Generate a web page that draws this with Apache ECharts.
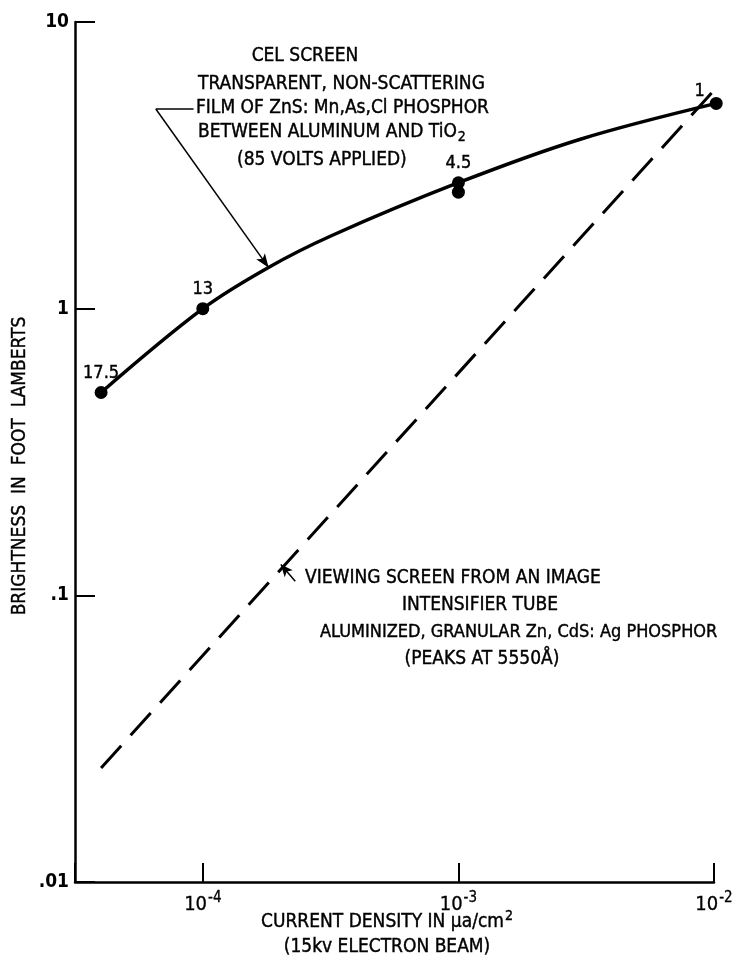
<!DOCTYPE html>
<html>
<head>
<meta charset="utf-8">
<script src="https://cdn.jsdelivr.net/npm/echarts@6/dist/echarts.min.js"></script>
<style>
  html, body { margin: 0; padding: 0; background: #fff; }
  #chart { width: 740px; height: 957px; }
</style>
</head>
<body>
<div id="chart"></div>
<script>
// CEL screen: measured points (current density in µa/cm², brightness in foot lamberts)
const celX = [4e-5, 1e-4, 1e-3, 1e-3, 1.02e-2];
const celY = [0.51, 1.0, 2.75, 2.55, 5.2];
const celTags = ['17.5', '13', '4.5', '', '1'];

// CEL screen: drawn response curve
const celCurveX = [4e-5, 1e-4, 1.8e-4, 3.2e-4, 1e-3, 3e-3, 1.02e-2];
const celCurveY = [0.51, 1.0, 1.39, 1.8, 2.75, 3.9, 5.2];

// image intensifier viewing screen (straight line on log-log paper)
const tubeX = [4e-5, 1.04e-2];
const tubeY = [0.025, 6.0];

// axis extents and tick labels
const xRange = [3.1623e-5, 1e-2];
const yRange = [0.01, 10];
const xTickExp = { '-4': '-4', '-3': '-3', '-2': '-2' };
const yTickText = { '1': '10', '0': '1', '-1': '.1', '-2': '.01' };

// pointer lines for the two captions (data coordinates)
const celPointer = [[6.55e-5, 4.97], [1.81e-4, 1.39]];
const celPointerStub = [[6.55e-5, 4.97], [9.2e-5, 4.97]];
const tubePointer = [[2.3e-4, 0.112], [2.02e-4, 0.128]];

const FONT = "'DejaVu Sans Condensed', 'Liberation Sans Narrow', 'DejaVu Sans', sans-serif";
const INK = '#000';

const zip = (xs, ys) => xs.map((x, i) => [x, ys[i]]);

const chart = echarts.init(document.getElementById('chart'), null, { renderer: 'canvas' });

function caption(text, x, y, align, size, rich) {
  return {
    type: 'text', x: x, y: y,
    style: {
      text: text, fontFamily: FONT, fontSize: size || 19, fill: INK,
      stroke: INK, lineWidth: 0.4,
      textAlign: align || 'left', textVerticalAlign: 'middle',
      rich: rich || {}
    }
  };
}
const subRich = {
  n: { fontFamily: FONT, fontSize: 19, color: INK },
  sub: { fontFamily: FONT, fontSize: 14, color: INK, padding: [11, 0, 0, 1] },
  sup: { fontFamily: FONT, fontSize: 14, color: INK, padding: [0, 0, 11, 1] }
};

chart.setOption({
  backgroundColor: '#fff',
  animation: false,
  grid: { left: 75, right: 26, top: 22, bottom: 75, containLabel: false },
  xAxis: {
    type: 'log', logBase: 10, min: xRange[0], max: xRange[1],
    axisLine: { show: true, lineStyle: { color: INK, width: 2.5 } },
    axisTick: { show: true, inside: true, length: 19, lineStyle: { color: INK, width: 2 } },
    minorTick: { show: false },
    splitLine: { show: false },
    axisLabel: {
      margin: 6, fontFamily: FONT, fontSize: 20, color: INK,
      formatter: function (v) {
        const e = Math.round(Math.log10(v));
        if (Math.abs(Math.log10(v) - e) > 1e-6 || xTickExp[e] === undefined) return '';
        return '{b|10}{s|' + xTickExp[e] + '}';
      },
      rich: {
        b: { fontFamily: FONT, fontSize: 20, color: INK, textBorderColor: INK, textBorderWidth: 0.3, padding: [7, 0, 0, 0] },
        s: { fontFamily: FONT, fontSize: 15, color: INK, textBorderColor: INK, textBorderWidth: 0.3, padding: [0, 0, 7, 1] }
      }
    }
  },
  yAxis: {
    type: 'log', logBase: 10, min: yRange[0], max: yRange[1],
    axisLine: { show: true, lineStyle: { color: INK, width: 2.5 } },
    axisTick: { show: true, inside: true, length: 20, lineStyle: { color: INK, width: 2 } },
    minorTick: { show: false },
    splitLine: { show: false },
    axisLabel: {
      margin: 6, fontFamily: FONT, fontSize: 19, color: INK, fontWeight: 'bold',
      formatter: function (v) {
        const e = Math.round(Math.log10(v));
        return yTickText[e] !== undefined ? yTickText[e] : '';
      }
    }
  },
  series: [
    {
      name: 'tube',
      type: 'line',
      clip: false,
      data: zip(tubeX, tubeY),
      showSymbol: false,
      lineStyle: { color: INK, width: 3, type: [30, 14] },
      markLine: {
        silent: true,
        symbol: ['none', 'arrow'], symbolSize: [8, 12],
        label: { show: false },
        lineStyle: { color: INK, width: 1.5, type: 'solid' },
        data: [[{ coord: tubePointer[0] }, { coord: tubePointer[1] }]]
      }
    },
    {
      name: 'cel curve',
      type: 'line',
      clip: false,
      data: zip(celCurveX, celCurveY),
      smooth: 0.35,
      showSymbol: false,
      lineStyle: { color: INK, width: 3.5 },
      markLine: {
        silent: true,
        symbol: ['none', 'arrow'], symbolSize: [8, 14],
        label: { show: false },
        lineStyle: { color: INK, width: 1.5, type: 'solid' },
        data: [
          [{ coord: celPointer[0] }, { coord: celPointer[1] }],
          [{ coord: celPointerStub[0], symbol: 'none' }, { coord: celPointerStub[1], symbol: 'none' }]
        ]
      }
    },
    {
      name: 'cel points',
      type: 'scatter',
      clip: false,
      data: zip(celX, celY).map((p, i) => {
        const item = { value: p, tag: celTags[i] };
        if (i === celX.length - 1) item.label = { show: true, position: 'left', offset: [-1, -12] };
        return item;
      }),
      symbol: 'circle', symbolSize: 13,
      itemStyle: { color: INK, opacity: 1 },
      label: {
        show: true, position: 'top', distance: 4,
        fontFamily: FONT, fontSize: 18, color: INK,
        textBorderColor: INK, textBorderWidth: 0.4,
        formatter: p => p.data.tag
      },
      z: 5
    }
  ],
  graphic: [
    {
      type: 'text', x: 20, y: 466, rotation: Math.PI / 2,
      style: {
        text: 'BRIGHTNESS  IN  FOOT  LAMBERTS', fontFamily: FONT, fontSize: 19,
        fill: INK, stroke: INK, lineWidth: 0.4,
        textAlign: 'center', textVerticalAlign: 'middle'
      }
    },
    caption('CEL SCREEN', 305, 56, 'center'),
    caption('TRANSPARENT, NON-SCATTERING', 198, 84),
    caption('FILM OF ZnS: Mn,As,Cl PHOSPHOR', 196, 108),
    caption('{n|BETWEEN ALUMINUM AND TiO}{sub|2}', 198, 132, 'left', 19, subRich),
    caption('(85 VOLTS APPLIED)', 237, 160),
    caption('VIEWING SCREEN FROM AN IMAGE', 305, 578),
    caption('INTENSIFIER TUBE', 480, 605, 'center'),
    caption('ALUMINIZED, GRANULAR Zn, CdS: Ag PHOSPHOR', 320, 632, 'left', 18),
    caption('(PEAKS AT 5550Å)', 482, 659, 'center'),
    caption('{n|CURRENT DENSITY IN μa/cm}{sup|2}', 387, 922, 'center', 19, subRich),
    caption('(15kv ELECTRON BEAM)', 387, 947, 'center')
  ]
});
</script>
</body>
</html>
